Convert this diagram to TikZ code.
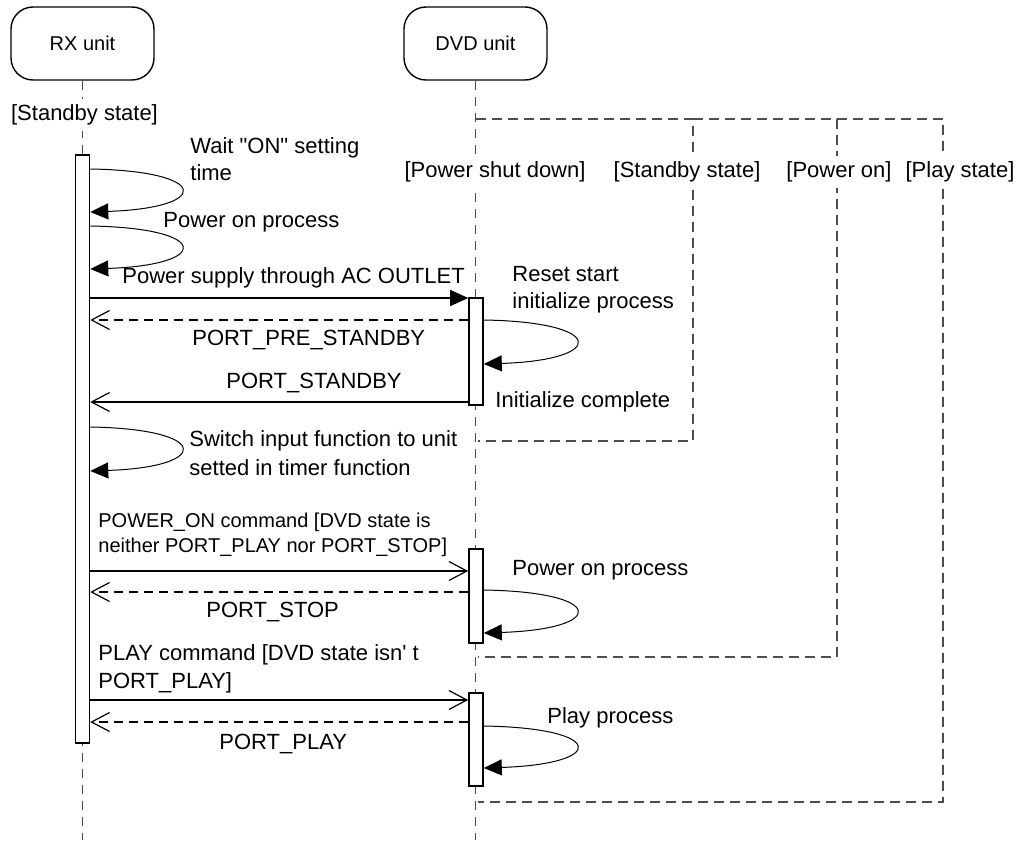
\documentclass[tikz,border=0pt]{standalone}
\usepackage{fontspec}
\setmainfont{Liberation Sans}[Ligatures=TeXOff]
\usepackage{tikz}
\usetikzlibrary{arrows.meta,positioning}
\definecolor{SeqInk}{HTML}{000000}
\definecolor{SeqDash}{HTML}{4D4D4D}
\tikzset{
  seqlabel/.style={font=\fontsize{11}{13.5}\selectfont, text=SeqInk, inner sep=0pt, align=left},
  seqsmall/.style={font=\fontsize{10}{12.5}\selectfont},
  statelabel/.style={fill=white, inner xsep=1pt, inner ysep=3pt},
  unitbox/.style={draw=SeqInk, line width=0.7pt, rounded corners=11pt, fill=white, minimum width=71.5pt, minimum height=36.5pt, font=\fontsize{10}{12}\selectfont},
  actbar/.style={draw=SeqInk, line width=0.8pt, fill=white, minimum width=7pt},
  lifeline/.style={draw=SeqDash, line width=0.5pt, dash pattern=on 4.5pt off 3.5pt},
  stateframe/.style={draw=SeqDash, line width=0.7pt, dash pattern=on 5pt off 3pt},
  syncarrow/.style={-{Triangle[length=9pt,width=8pt]}, line width=0.6pt, draw=SeqInk},
  callarrow/.style={-{Straight Barb[length=9pt,width=9.5pt]}, line width=0.6pt, draw=SeqInk},
  replyarrow/.style={callarrow, dash pattern=on 4.5pt off 3pt},
  selfloop/.style={-{Triangle[length=9pt,width=8pt]}, line width=0.5pt, draw=SeqInk}
}
\begin{document}
\begin{tikzpicture}[x=0.5pt, y=-0.5pt, every node/.style={seqlabel}]
\useasboundingbox (0,0) rectangle (1020,840);
% units and lifelines
\node[unitbox] (rx) at (82.5,43.5) {RX unit};
\node[unitbox] (dvd) at (475.5,43.5) {DVD unit};
\coordinate (floor) at (0,840);
\draw[lifeline] (rx.south) -- (rx.south |- floor);
\draw[lifeline] (dvd.south) -- (dvd.south |- floor);
% DVD states
\draw[stateframe] (476,119) -| (693,441) -- (478,441);
\draw[stateframe] (693,119) -| (837,657) -- (478,657);
\draw[stateframe] (837,119) -| (943,802) -- (478,802);
\node[statelabel] (rxstandby) at (84.5,115) {[Standby state]};
\node[statelabel] (shutdown) at (495,172) {[Power shut down]};
\node[statelabel] (standby) at (687,172) {[Standby state]};
\node[statelabel] (poweron) at (839,172) {[Power on]};
\node[statelabel] (playstate) at (960,172) {[Play state]};
% activations
\node[actbar, minimum height=294pt] (rxact) at (82.5,449) {};
\node[actbar, minimum height=53.5pt] (dvdact1) at (476,351.5) {};
\node[actbar, minimum height=47pt] (dvdact2) at (476,596) {};
\node[actbar, minimum height=46.5pt] (dvdact3) at (476,739.5) {};
% message levels
\coordinate (msupply) at (0,298);
\coordinate (rprestandby) at (0,320);
\coordinate (rstandby) at (0,402);
\coordinate (mpoweron) at (0,571);
\coordinate (rstop) at (0,592);
\coordinate (mplay) at (0,700);
\coordinate (rplay) at (0,722);
\draw[syncarrow] (rxact.east |- msupply) -- (dvdact1.west |- msupply);
\draw[replyarrow] (dvdact1.west |- rprestandby) -- (rxact.east |- rprestandby);
\draw[callarrow] (dvdact1.west |- rstandby) -- (rxact.east |- rstandby);
\draw[callarrow] (rxact.east |- mpoweron) -- (dvdact2.west |- mpoweron);
\draw[replyarrow] (dvdact2.west |- rstop) -- (rxact.east |- rstop);
\draw[callarrow] (rxact.east |- mplay) -- (dvdact3.west |- mplay);
\draw[replyarrow] (dvdact3.west |- rplay) -- (rxact.east |- rplay);
% self calls
\coordinate (waitA) at (0,169);   \coordinate (waitB) at (0,212);
\coordinate (onA) at (0,226);     \coordinate (onB) at (0,269);
\coordinate (switchA) at (0,427); \coordinate (switchB) at (0,471);
\coordinate (resetA) at (0,320);  \coordinate (resetB) at (0,364);
\coordinate (dvdonA) at (0,590);  \coordinate (dvdonB) at (0,633);
\coordinate (playA) at (0,726);   \coordinate (playB) at (0,768);
\draw[selfloop] (rxact.east |- waitA) .. controls +(121,2) and +(121,-4) .. (rxact.east |- waitB);
\draw[selfloop] (rxact.east |- onA) .. controls +(121,2) and +(121,-4) .. (rxact.east |- onB);
\draw[selfloop] (rxact.east |- switchA) .. controls +(121,2) and +(121,-4) .. (rxact.east |- switchB);
\draw[selfloop] (dvdact1.east |- resetA) .. controls +(123,2) and +(123,-4) .. (dvdact1.east |- resetB);
\draw[selfloop] (dvdact2.east |- dvdonA) .. controls +(123,2) and +(123,-4) .. (dvdact2.east |- dvdonB);
\draw[selfloop] (dvdact3.east |- playA) .. controls +(123,2) and +(123,-4) .. (dvdact3.east |- playB);
% texts
\node[anchor=west] (waitlbl) at (190,159) {Wait "ON" setting\\time};
\node[anchor=west] (onlbl) at (163,222) {Power on process};
\node[anchor=west] (supplylbl) at (122,278) {Power supply through AC OUTLET};
\node[anchor=west] (prestandbylbl) at (192,340) {PORT\_PRE\_STANDBY};
\node[anchor=west] (standbylbl) at (226,383) {PORT\_STANDBY};
\node[anchor=west] (resetlbl) at (512,289.5) {Reset start\\initialize process};
\node[anchor=west] (completelbl) at (495,402) {Initialize complete};
\node[anchor=west, font=\fontsize{11}{14.5}\selectfont] (switchlbl) at (189,453.5) {Switch input function to unit\\setted in timer function};
\node[anchor=west, seqsmall] (poweronlbl) at (98,534.5) {POWER\_ON command [DVD state is\\neither PORT\_PLAY nor PORT\_STOP]};
\node[anchor=west] (dvdonlbl) at (512,570) {Power on process};
\node[anchor=west] (stoplbl) at (206,612) {PORT\_STOP};
\node[anchor=west, font=\fontsize{11}{14}\selectfont] (playlbl) at (98,669) {PLAY command [DVD state isn' t\\PORT\_PLAY]};
\node[anchor=west] (playproclbl) at (547,718) {Play process};
\node[anchor=west] (portplaylbl) at (219,744) {PORT\_PLAY};
\end{tikzpicture}
\end{document}
